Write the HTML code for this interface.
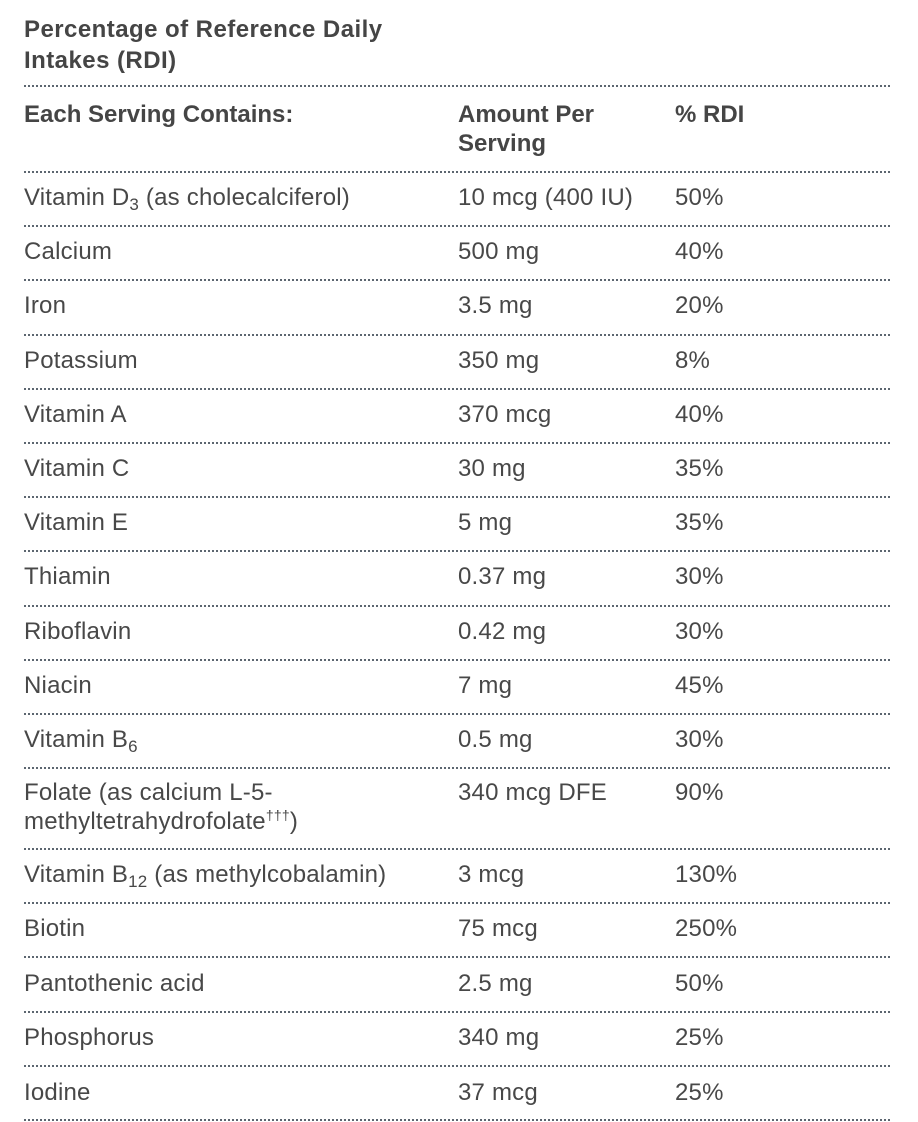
<!DOCTYPE html>
<html>
<head>
<meta charset="utf-8">
<style>
html,body{margin:0;padding:0;background:#fff;}
svg{display:block;}
text{font-family:"Liberation Sans",Arial,sans-serif;fill:#484848;font-size:24px;letter-spacing:0.2px;}
.b{font-weight:bold;letter-spacing:0px;fill:#454545;}
.t{font-size:24px;letter-spacing:0.45px;}
line{stroke:#5c6670;stroke-width:2;stroke-dasharray:2 2;}
</style>
</head>
<body>
<svg width="918" height="1122" viewBox="0 0 918 1122" xmlns="http://www.w3.org/2000/svg">
  <!-- Title -->
  <text class="b t" x="24" y="37">Percentage of Reference Daily</text>
  <text class="b t" x="24" y="68">Intakes (RDI)</text>
  <line x1="24" y1="86" x2="892" y2="86"/>

  <!-- Header -->
  <text class="b" x="24" y="122">Each Serving Contains:</text>
  <text class="b" x="458" y="122">Amount Per</text>
  <text class="b" x="458" y="151">Serving</text>
  <text class="b" x="675" y="122">% RDI</text>
  <line x1="24" y1="172" x2="892" y2="172"/>

  <!-- Row 1 -->
  <text x="24" y="205">Vitamin D<tspan dy="5" font-size="17">3</tspan><tspan dy="-5"> (as cholecalciferol)</tspan></text>
  <text x="458" y="205">10 mcg (400 IU)</text>
  <text x="675" y="205">50%</text>
  <line x1="24" y1="226" x2="892" y2="226"/>

  <text x="24" y="259">Calcium</text>
  <text x="458" y="259">500 mg</text>
  <text x="675" y="259">40%</text>
  <line x1="24" y1="280" x2="892" y2="280"/>

  <text x="24" y="313">Iron</text>
  <text x="458" y="313">3.5 mg</text>
  <text x="675" y="313">20%</text>
  <line x1="24" y1="335" x2="892" y2="335"/>

  <text x="24" y="368">Potassium</text>
  <text x="458" y="368">350 mg</text>
  <text x="675" y="368">8%</text>
  <line x1="24" y1="389" x2="892" y2="389"/>

  <text x="24" y="422">Vitamin A</text>
  <text x="458" y="422">370 mcg</text>
  <text x="675" y="422">40%</text>
  <line x1="24" y1="443" x2="892" y2="443"/>

  <text x="24" y="476">Vitamin C</text>
  <text x="458" y="476">30 mg</text>
  <text x="675" y="476">35%</text>
  <line x1="24" y1="497" x2="892" y2="497"/>

  <text x="24" y="530">Vitamin E</text>
  <text x="458" y="530">5 mg</text>
  <text x="675" y="530">35%</text>
  <line x1="24" y1="551" x2="892" y2="551"/>

  <text x="24" y="584">Thiamin</text>
  <text x="458" y="584">0.37 mg</text>
  <text x="675" y="584">30%</text>
  <line x1="24" y1="606" x2="892" y2="606"/>

  <text x="24" y="639">Riboflavin</text>
  <text x="458" y="639">0.42 mg</text>
  <text x="675" y="639">30%</text>
  <line x1="24" y1="660" x2="892" y2="660"/>

  <text x="24" y="693">Niacin</text>
  <text x="458" y="693">7 mg</text>
  <text x="675" y="693">45%</text>
  <line x1="24" y1="714" x2="892" y2="714"/>

  <text x="24" y="747">Vitamin B<tspan dy="5" font-size="17">6</tspan></text>
  <text x="458" y="747">0.5 mg</text>
  <text x="675" y="747">30%</text>
  <line x1="24" y1="768" x2="892" y2="768"/>

  <text x="24" y="800">Folate (as calcium L-5-</text>
  <text x="24" y="829">methyltetrahydrofolate<tspan dy="-9" font-size="14">†††</tspan><tspan dy="9">)</tspan></text>
  <text x="458" y="800">340 mcg DFE</text>
  <text x="675" y="800">90%</text>
  <line x1="24" y1="849" x2="892" y2="849"/>

  <text x="24" y="882">Vitamin B<tspan dy="5" font-size="17">12</tspan><tspan dy="-5"> (as methylcobalamin)</tspan></text>
  <text x="458" y="882">3 mcg</text>
  <text x="675" y="882">130%</text>
  <line x1="24" y1="903" x2="892" y2="903"/>

  <text x="24" y="936">Biotin</text>
  <text x="458" y="936">75 mcg</text>
  <text x="675" y="936">250%</text>
  <line x1="24" y1="957" x2="892" y2="957"/>

  <text x="24" y="991">Pantothenic acid</text>
  <text x="458" y="991">2.5 mg</text>
  <text x="675" y="991">50%</text>
  <line x1="24" y1="1012" x2="892" y2="1012"/>

  <text x="24" y="1045">Phosphorus</text>
  <text x="458" y="1045">340 mg</text>
  <text x="675" y="1045">25%</text>
  <line x1="24" y1="1066" x2="892" y2="1066"/>

  <text x="24" y="1100">Iodine</text>
  <text x="458" y="1100">37 mcg</text>
  <text x="675" y="1100">25%</text>
  <line x1="24" y1="1120" x2="892" y2="1120"/>
</svg>
</body>
</html>
